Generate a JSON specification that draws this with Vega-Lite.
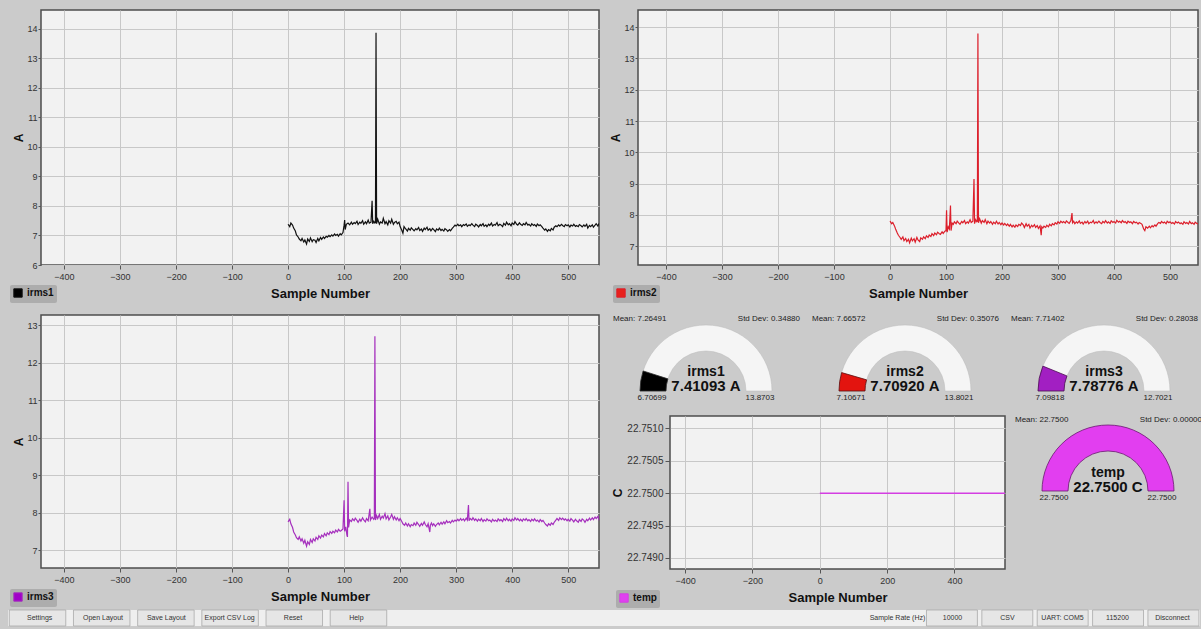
{
  "$schema": "https://vega.github.io/schema/vega-lite/v6.json",
  "background": "#cbcbcb",
  "padding": {"left": 8, "top": 9, "right": 1, "bottom": 2},
  "datasets": {
    "irms1": [
      {"n":0,"v":7.38},{"n":3,"v":7.30},{"n":5,"v":7.42},{"n":8,"v":7.35},{"n":10,"v":7.25},{"n":13,"v":7.15},{"n":15,"v":7.02},{"n":18,"v":6.95},{"n":20,"v":6.88},{"n":23,"v":6.82},{"n":25,"v":6.90},{"n":28,"v":6.78},{"n":30,"v":6.85},{"n":33,"v":6.71},{"n":35,"v":6.88},{"n":38,"v":6.80},{"n":40,"v":6.92},{"n":43,"v":6.79},{"n":45,"v":6.86},{"n":48,"v":6.84},{"n":50,"v":6.76},{"n":53,"v":6.90},{"n":55,"v":6.82},{"n":58,"v":6.93},{"n":60,"v":6.87},{"n":63,"v":6.95},{"n":65,"v":6.90},{"n":68,"v":6.97},{"n":70,"v":6.94},{"n":73,"v":7.00},{"n":75,"v":6.96},{"n":78,"v":7.02},{"n":80,"v":6.98},{"n":83,"v":7.05},{"n":85,"v":7.00},{"n":88,"v":7.04},{"n":90,"v":6.98},{"n":93,"v":7.06},{"n":95,"v":7.02},{"n":98,"v":7.10},{"n":100,"v":7.35},{"n":101,"v":7.52},{"n":102,"v":7.20},{"n":104,"v":7.38},{"n":107,"v":7.42},{"n":110,"v":7.36},{"n":113,"v":7.45},{"n":115,"v":7.38},{"n":118,"v":7.44},{"n":120,"v":7.40},{"n":123,"v":7.48},{"n":125,"v":7.37},{"n":128,"v":7.45},{"n":130,"v":7.41},{"n":133,"v":7.50},{"n":135,"v":7.38},{"n":138,"v":7.46},{"n":140,"v":7.40},{"n":143,"v":7.52},{"n":145,"v":7.42},{"n":148,"v":7.45},{"n":150,"v":8.18},{"n":151,"v":7.40},{"n":153,"v":7.48},{"n":155,"v":7.42},{"n":156,"v":7.44},{"n":157,"v":13.87},{"n":158,"v":7.40},{"n":160,"v":7.55},{"n":163,"v":7.38},{"n":165,"v":7.46},{"n":168,"v":7.42},{"n":170,"v":7.58},{"n":173,"v":7.40},{"n":175,"v":7.47},{"n":178,"v":7.36},{"n":180,"v":7.50},{"n":183,"v":7.42},{"n":185,"v":7.55},{"n":188,"v":7.38},{"n":190,"v":7.44},{"n":193,"v":7.48},{"n":195,"v":7.40},{"n":198,"v":7.45},{"n":200,"v":7.30},{"n":203,"v":7.18},{"n":205,"v":7.08},{"n":207,"v":7.30},{"n":210,"v":7.22},{"n":213,"v":7.15},{"n":215,"v":7.24},{"n":218,"v":7.18},{"n":220,"v":7.26},{"n":223,"v":7.20},{"n":225,"v":7.16},{"n":228,"v":7.23},{"n":230,"v":7.19},{"n":233,"v":7.27},{"n":235,"v":7.17},{"n":238,"v":7.22},{"n":240,"v":7.14},{"n":243,"v":7.25},{"n":245,"v":7.20},{"n":248,"v":7.28},{"n":250,"v":7.18},{"n":253,"v":7.23},{"n":255,"v":7.16},{"n":258,"v":7.24},{"n":260,"v":7.20},{"n":263,"v":7.13},{"n":265,"v":7.22},{"n":268,"v":7.18},{"n":270,"v":7.25},{"n":273,"v":7.17},{"n":275,"v":7.21},{"n":278,"v":7.15},{"n":280,"v":7.23},{"n":283,"v":7.19},{"n":285,"v":7.14},{"n":288,"v":7.20},{"n":290,"v":7.16},{"n":293,"v":7.24},{"n":295,"v":7.28},{"n":298,"v":7.35},{"n":300,"v":7.32},{"n":303,"v":7.38},{"n":305,"v":7.33},{"n":308,"v":7.36},{"n":310,"v":7.30},{"n":313,"v":7.37},{"n":315,"v":7.34},{"n":318,"v":7.39},{"n":320,"v":7.31},{"n":323,"v":7.36},{"n":325,"v":7.33},{"n":328,"v":7.40},{"n":330,"v":7.35},{"n":333,"v":7.30},{"n":335,"v":7.38},{"n":338,"v":7.34},{"n":340,"v":7.29},{"n":343,"v":7.37},{"n":345,"v":7.33},{"n":348,"v":7.40},{"n":350,"v":7.31},{"n":353,"v":7.36},{"n":355,"v":7.30},{"n":358,"v":7.38},{"n":360,"v":7.34},{"n":363,"v":7.42},{"n":365,"v":7.32},{"n":368,"v":7.37},{"n":370,"v":7.35},{"n":373,"v":7.44},{"n":375,"v":7.33},{"n":378,"v":7.38},{"n":380,"v":7.36},{"n":383,"v":7.30},{"n":385,"v":7.41},{"n":388,"v":7.35},{"n":390,"v":7.45},{"n":393,"v":7.36},{"n":395,"v":7.40},{"n":398,"v":7.33},{"n":400,"v":7.42},{"n":403,"v":7.37},{"n":405,"v":7.47},{"n":408,"v":7.38},{"n":410,"v":7.35},{"n":413,"v":7.43},{"n":415,"v":7.38},{"n":418,"v":7.34},{"n":420,"v":7.40},{"n":423,"v":7.36},{"n":425,"v":7.44},{"n":428,"v":7.35},{"n":430,"v":7.38},{"n":433,"v":7.32},{"n":435,"v":7.40},{"n":438,"v":7.34},{"n":440,"v":7.37},{"n":443,"v":7.31},{"n":445,"v":7.39},{"n":448,"v":7.33},{"n":450,"v":7.36},{"n":453,"v":7.30},{"n":455,"v":7.25},{"n":458,"v":7.18},{"n":460,"v":7.22},{"n":463,"v":7.14},{"n":465,"v":7.20},{"n":468,"v":7.16},{"n":470,"v":7.24},{"n":473,"v":7.19},{"n":475,"v":7.28},{"n":478,"v":7.33},{"n":480,"v":7.30},{"n":483,"v":7.36},{"n":485,"v":7.32},{"n":488,"v":7.38},{"n":490,"v":7.34},{"n":493,"v":7.30},{"n":495,"v":7.37},{"n":498,"v":7.33},{"n":500,"v":7.36},{"n":503,"v":7.29},{"n":505,"v":7.35},{"n":508,"v":7.32},{"n":510,"v":7.38},{"n":513,"v":7.31},{"n":515,"v":7.34},{"n":518,"v":7.30},{"n":520,"v":7.37},{"n":523,"v":7.33},{"n":525,"v":7.29},{"n":528,"v":7.36},{"n":530,"v":7.31},{"n":533,"v":7.38},{"n":535,"v":7.25},{"n":538,"v":7.34},{"n":540,"v":7.30},{"n":543,"v":7.36},{"n":545,"v":7.28},{"n":548,"v":7.35},{"n":550,"v":7.40},{"n":553,"v":7.32},{"n":555,"v":7.41}
    ],
    "irms2": [
      {"n":0,"v":7.80},{"n":3,"v":7.72},{"n":5,"v":7.76},{"n":8,"v":7.65},{"n":10,"v":7.55},{"n":13,"v":7.42},{"n":15,"v":7.35},{"n":18,"v":7.28},{"n":20,"v":7.22},{"n":23,"v":7.30},{"n":25,"v":7.18},{"n":28,"v":7.25},{"n":30,"v":7.15},{"n":33,"v":7.22},{"n":35,"v":7.11},{"n":38,"v":7.26},{"n":40,"v":7.17},{"n":43,"v":7.24},{"n":45,"v":7.13},{"n":48,"v":7.28},{"n":50,"v":7.20},{"n":53,"v":7.15},{"n":55,"v":7.27},{"n":58,"v":7.22},{"n":60,"v":7.30},{"n":63,"v":7.24},{"n":65,"v":7.33},{"n":68,"v":7.28},{"n":70,"v":7.36},{"n":73,"v":7.31},{"n":75,"v":7.40},{"n":78,"v":7.34},{"n":80,"v":7.42},{"n":83,"v":7.37},{"n":85,"v":7.45},{"n":88,"v":7.40},{"n":90,"v":7.38},{"n":93,"v":7.46},{"n":95,"v":7.41},{"n":98,"v":7.48},{"n":100,"v":7.50},{"n":101,"v":8.15},{"n":102,"v":7.45},{"n":104,"v":7.62},{"n":106,"v":7.55},{"n":108,"v":8.30},{"n":109,"v":7.50},{"n":111,"v":7.74},{"n":113,"v":7.70},{"n":115,"v":7.78},{"n":118,"v":7.72},{"n":120,"v":7.80},{"n":123,"v":7.74},{"n":125,"v":7.70},{"n":128,"v":7.79},{"n":130,"v":7.75},{"n":133,"v":7.82},{"n":135,"v":7.72},{"n":138,"v":7.78},{"n":140,"v":7.74},{"n":143,"v":7.85},{"n":145,"v":7.76},{"n":148,"v":7.80},{"n":150,"v":9.15},{"n":151,"v":7.72},{"n":153,"v":7.85},{"n":155,"v":7.78},{"n":156,"v":7.80},{"n":157,"v":13.80},{"n":158,"v":7.75},{"n":160,"v":7.88},{"n":163,"v":7.74},{"n":165,"v":7.82},{"n":168,"v":7.76},{"n":170,"v":7.85},{"n":173,"v":7.72},{"n":175,"v":7.80},{"n":178,"v":7.74},{"n":180,"v":7.79},{"n":183,"v":7.70},{"n":185,"v":7.77},{"n":188,"v":7.72},{"n":190,"v":7.80},{"n":193,"v":7.71},{"n":195,"v":7.76},{"n":198,"v":7.69},{"n":200,"v":7.74},{"n":203,"v":7.68},{"n":205,"v":7.73},{"n":208,"v":7.66},{"n":210,"v":7.71},{"n":213,"v":7.64},{"n":215,"v":7.70},{"n":218,"v":7.62},{"n":220,"v":7.67},{"n":223,"v":7.61},{"n":225,"v":7.68},{"n":228,"v":7.63},{"n":230,"v":7.70},{"n":233,"v":7.66},{"n":235,"v":7.74},{"n":238,"v":7.68},{"n":240,"v":7.60},{"n":243,"v":7.72},{"n":245,"v":7.64},{"n":248,"v":7.70},{"n":250,"v":7.58},{"n":253,"v":7.67},{"n":255,"v":7.62},{"n":258,"v":7.69},{"n":260,"v":7.60},{"n":263,"v":7.66},{"n":265,"v":7.57},{"n":268,"v":7.65},{"n":270,"v":7.35},{"n":271,"v":7.62},{"n":273,"v":7.58},{"n":275,"v":7.64},{"n":278,"v":7.60},{"n":280,"v":7.67},{"n":283,"v":7.62},{"n":285,"v":7.70},{"n":288,"v":7.65},{"n":290,"v":7.72},{"n":293,"v":7.68},{"n":295,"v":7.75},{"n":298,"v":7.71},{"n":300,"v":7.78},{"n":303,"v":7.73},{"n":305,"v":7.80},{"n":308,"v":7.75},{"n":310,"v":7.79},{"n":313,"v":7.74},{"n":315,"v":7.81},{"n":318,"v":7.76},{"n":320,"v":7.73},{"n":323,"v":7.82},{"n":325,"v":8.06},{"n":326,"v":7.75},{"n":328,"v":7.80},{"n":330,"v":7.72},{"n":333,"v":7.78},{"n":335,"v":7.74},{"n":338,"v":7.81},{"n":340,"v":7.73},{"n":343,"v":7.77},{"n":345,"v":7.71},{"n":348,"v":7.79},{"n":350,"v":7.74},{"n":353,"v":7.80},{"n":355,"v":7.72},{"n":358,"v":7.77},{"n":360,"v":7.75},{"n":363,"v":7.82},{"n":365,"v":7.73},{"n":368,"v":7.78},{"n":370,"v":7.74},{"n":373,"v":7.80},{"n":375,"v":7.76},{"n":378,"v":7.72},{"n":380,"v":7.79},{"n":383,"v":7.75},{"n":385,"v":7.82},{"n":388,"v":7.74},{"n":390,"v":7.78},{"n":393,"v":7.73},{"n":395,"v":7.81},{"n":398,"v":7.76},{"n":400,"v":7.79},{"n":403,"v":7.74},{"n":405,"v":7.83},{"n":408,"v":7.77},{"n":410,"v":7.80},{"n":413,"v":7.75},{"n":415,"v":7.82},{"n":418,"v":7.76},{"n":420,"v":7.79},{"n":423,"v":7.73},{"n":425,"v":7.80},{"n":428,"v":7.76},{"n":430,"v":7.78},{"n":433,"v":7.72},{"n":435,"v":7.79},{"n":438,"v":7.75},{"n":440,"v":7.77},{"n":443,"v":7.71},{"n":445,"v":7.76},{"n":448,"v":7.73},{"n":450,"v":7.70},{"n":453,"v":7.55},{"n":455,"v":7.50},{"n":457,"v":7.62},{"n":460,"v":7.58},{"n":463,"v":7.64},{"n":465,"v":7.59},{"n":468,"v":7.66},{"n":470,"v":7.62},{"n":473,"v":7.68},{"n":475,"v":7.64},{"n":478,"v":7.72},{"n":480,"v":7.76},{"n":483,"v":7.73},{"n":485,"v":7.79},{"n":488,"v":7.74},{"n":490,"v":7.77},{"n":493,"v":7.72},{"n":495,"v":7.80},{"n":498,"v":7.75},{"n":500,"v":7.78},{"n":503,"v":7.73},{"n":505,"v":7.76},{"n":508,"v":7.71},{"n":510,"v":7.79},{"n":513,"v":7.74},{"n":515,"v":7.77},{"n":518,"v":7.72},{"n":520,"v":7.75},{"n":523,"v":7.70},{"n":525,"v":7.78},{"n":528,"v":7.73},{"n":530,"v":7.76},{"n":533,"v":7.71},{"n":535,"v":7.79},{"n":538,"v":7.72},{"n":540,"v":7.75},{"n":543,"v":7.70},{"n":545,"v":7.77},{"n":548,"v":7.73},{"n":550,"v":7.71}
    ],
    "irms3": [
      {"n":0,"v":7.75},{"n":3,"v":7.82},{"n":5,"v":7.70},{"n":8,"v":7.60},{"n":10,"v":7.48},{"n":13,"v":7.40},{"n":15,"v":7.33},{"n":18,"v":7.28},{"n":20,"v":7.35},{"n":23,"v":7.24},{"n":25,"v":7.30},{"n":28,"v":7.18},{"n":30,"v":7.26},{"n":33,"v":7.10},{"n":35,"v":7.22},{"n":38,"v":7.15},{"n":40,"v":7.28},{"n":43,"v":7.20},{"n":45,"v":7.30},{"n":48,"v":7.24},{"n":50,"v":7.34},{"n":53,"v":7.28},{"n":55,"v":7.38},{"n":58,"v":7.32},{"n":60,"v":7.40},{"n":63,"v":7.35},{"n":65,"v":7.44},{"n":68,"v":7.38},{"n":70,"v":7.46},{"n":73,"v":7.41},{"n":75,"v":7.49},{"n":78,"v":7.44},{"n":80,"v":7.50},{"n":83,"v":7.46},{"n":85,"v":7.53},{"n":88,"v":7.48},{"n":90,"v":7.55},{"n":93,"v":7.50},{"n":95,"v":7.52},{"n":98,"v":7.56},{"n":100,"v":8.33},{"n":101,"v":7.50},{"n":103,"v":7.62},{"n":105,"v":7.40},{"n":106,"v":7.35},{"n":107,"v":8.82},{"n":108,"v":7.60},{"n":110,"v":7.80},{"n":113,"v":7.76},{"n":115,"v":7.83},{"n":118,"v":7.78},{"n":120,"v":7.85},{"n":123,"v":7.79},{"n":125,"v":7.74},{"n":128,"v":7.82},{"n":130,"v":7.77},{"n":133,"v":7.86},{"n":135,"v":7.80},{"n":138,"v":7.75},{"n":140,"v":7.84},{"n":143,"v":7.78},{"n":146,"v":8.10},{"n":147,"v":7.80},{"n":150,"v":7.88},{"n":153,"v":7.82},{"n":154,"v":7.85},{"n":155,"v":12.70},{"n":156,"v":7.80},{"n":158,"v":7.92},{"n":160,"v":7.84},{"n":163,"v":7.95},{"n":165,"v":7.82},{"n":168,"v":7.90},{"n":170,"v":7.85},{"n":173,"v":7.97},{"n":175,"v":7.83},{"n":178,"v":7.91},{"n":180,"v":7.80},{"n":183,"v":7.88},{"n":185,"v":7.95},{"n":188,"v":7.82},{"n":190,"v":7.89},{"n":193,"v":7.80},{"n":195,"v":7.86},{"n":198,"v":7.78},{"n":200,"v":7.84},{"n":203,"v":7.76},{"n":205,"v":7.70},{"n":208,"v":7.66},{"n":210,"v":7.72},{"n":213,"v":7.64},{"n":215,"v":7.70},{"n":218,"v":7.62},{"n":220,"v":7.68},{"n":223,"v":7.65},{"n":225,"v":7.72},{"n":228,"v":7.66},{"n":230,"v":7.74},{"n":233,"v":7.68},{"n":235,"v":7.63},{"n":238,"v":7.71},{"n":240,"v":7.66},{"n":243,"v":7.75},{"n":245,"v":7.68},{"n":248,"v":7.62},{"n":250,"v":7.70},{"n":253,"v":7.48},{"n":254,"v":7.66},{"n":256,"v":7.72},{"n":258,"v":7.65},{"n":260,"v":7.70},{"n":263,"v":7.63},{"n":265,"v":7.68},{"n":268,"v":7.72},{"n":270,"v":7.67},{"n":273,"v":7.74},{"n":275,"v":7.69},{"n":278,"v":7.75},{"n":280,"v":7.70},{"n":283,"v":7.78},{"n":285,"v":7.73},{"n":288,"v":7.76},{"n":290,"v":7.72},{"n":293,"v":7.79},{"n":295,"v":7.75},{"n":298,"v":7.80},{"n":300,"v":7.77},{"n":303,"v":7.82},{"n":305,"v":7.78},{"n":308,"v":7.84},{"n":310,"v":7.79},{"n":313,"v":7.83},{"n":315,"v":7.78},{"n":318,"v":7.85},{"n":320,"v":7.80},{"n":322,"v":8.20},{"n":323,"v":7.78},{"n":325,"v":7.84},{"n":328,"v":7.80},{"n":330,"v":7.86},{"n":333,"v":7.79},{"n":335,"v":7.83},{"n":338,"v":7.77},{"n":340,"v":7.82},{"n":343,"v":7.78},{"n":345,"v":7.84},{"n":348,"v":7.76},{"n":350,"v":7.81},{"n":353,"v":7.77},{"n":355,"v":7.83},{"n":358,"v":7.78},{"n":360,"v":7.80},{"n":363,"v":7.75},{"n":365,"v":7.82},{"n":368,"v":7.77},{"n":370,"v":7.80},{"n":373,"v":7.76},{"n":375,"v":7.83},{"n":378,"v":7.78},{"n":380,"v":7.81},{"n":383,"v":7.76},{"n":385,"v":7.84},{"n":388,"v":7.79},{"n":390,"v":7.85},{"n":393,"v":7.78},{"n":395,"v":7.82},{"n":398,"v":7.77},{"n":400,"v":7.83},{"n":403,"v":7.79},{"n":405,"v":7.86},{"n":408,"v":7.80},{"n":410,"v":7.84},{"n":413,"v":7.78},{"n":415,"v":7.82},{"n":418,"v":7.77},{"n":420,"v":7.83},{"n":423,"v":7.79},{"n":425,"v":7.84},{"n":428,"v":7.78},{"n":430,"v":7.81},{"n":433,"v":7.76},{"n":435,"v":7.82},{"n":438,"v":7.78},{"n":440,"v":7.83},{"n":443,"v":7.77},{"n":445,"v":7.80},{"n":448,"v":7.75},{"n":450,"v":7.81},{"n":453,"v":7.76},{"n":455,"v":7.79},{"n":458,"v":7.72},{"n":460,"v":7.68},{"n":463,"v":7.64},{"n":465,"v":7.70},{"n":468,"v":7.66},{"n":470,"v":7.72},{"n":473,"v":7.68},{"n":475,"v":7.74},{"n":478,"v":7.80},{"n":480,"v":7.84},{"n":483,"v":7.79},{"n":485,"v":7.86},{"n":488,"v":7.81},{"n":490,"v":7.85},{"n":493,"v":7.80},{"n":495,"v":7.83},{"n":498,"v":7.78},{"n":500,"v":7.82},{"n":503,"v":7.77},{"n":505,"v":7.84},{"n":508,"v":7.79},{"n":510,"v":7.75},{"n":513,"v":7.82},{"n":515,"v":7.78},{"n":518,"v":7.74},{"n":520,"v":7.81},{"n":523,"v":7.76},{"n":525,"v":7.83},{"n":528,"v":7.79},{"n":530,"v":7.74},{"n":533,"v":7.82},{"n":535,"v":7.78},{"n":538,"v":7.85},{"n":540,"v":7.80},{"n":543,"v":7.86},{"n":545,"v":7.81},{"n":548,"v":7.88},{"n":550,"v":7.84},{"n":553,"v":7.90},{"n":555,"v":7.79}
    ],
    "temp": [{"n":0,"v":22.75},{"n":555,"v":22.75}],
    "buttons": [
      {"label":"Settings","side":"L"},{"label":"Open Layout","side":"L"},{"label":"Save Layout","side":"L"},{"label":"Export CSV Log","side":"L"},{"label":"Reset","side":"L"},{"label":"Help","side":"L"},
      {"label":"Sample Rate (Hz)","side":"R"},{"label":"10000","side":"R"},{"label":"CSV","side":"R"},{"label":"UART: COM5","side":"R"},{"label":"115200","side":"R"},{"label":"Disconnect","side":"R"}
    ],
    "blank": []
  },
  "resolve": {"scale": {"color": "independent"}, "legend": {"color": "independent"}},
  "spacing": 0,
  "vconcat": [
    {
      "spacing": 10,
      "resolve": {"scale": {"color": "independent"}, "legend": {"color": "independent"}},
      "vconcat": [
        {
          "spacing": 0,
          "resolve": {"scale": {"color": "independent"}, "legend": {"color": "independent"}},
          "hconcat": [
            {"width": 1, "height": 1, "view": {"fill": null, "stroke": null}, "data": {"name": "blank"}, "mark": {"type": "point"}, "encoding": {}},
            {
              "spacing": 8,
              "resolve": {"scale": {"color": "independent"}, "legend": {"color": "independent"}},
              "hconcat": [
                {
                  "width": 558, "height": 255,
                  "data": {"name": "irms1"},
                  "mark": {"type": "line", "strokeWidth": 1.2, "clip": true},
                  "encoding": {
                    "x": {"field": "n", "type": "quantitative", "scale": {"domain": [-441, 555], "nice": false, "zero": false}, "axis": {"title": "Sample Number", "values": [-400,-300,-200,-100,0,100,200,300,400,500]}},
                    "y": {"field": "v", "type": "quantitative", "scale": {"domain": [6, 14.64], "nice": false, "zero": false}, "axis": {"title": "A", "values": [6,7,8,9,10,11,12,13,14]}},
                    "color": {"datum": "irms1", "type": "nominal", "scale": {"domain": ["irms1"], "range": ["#111111"]}, "legend": {"title": null, "orient": "none", "legendX": -31, "legendY": 275, "encode": {"symbols": {"update": {"fill": {"value": "#000000"}, "stroke": {"value": "#000000"}, "shape": {"value": "square"}}}}}}
                  }
                },
                {
                  "width": 560, "height": 255,
                  "data": {"name": "irms2"},
                  "mark": {"type": "line", "strokeWidth": 1.2, "clip": true},
                  "encoding": {
                    "x": {"field": "n", "type": "quantitative", "scale": {"domain": [-450, 550], "nice": false, "zero": false}, "axis": {"title": "Sample Number", "values": [-400,-300,-200,-100,0,100,200,300,400,500]}},
                    "y": {"field": "v", "type": "quantitative", "scale": {"domain": [6.4, 14.55], "nice": false, "zero": false}, "axis": {"title": "A", "values": [7,8,9,10,11,12,13,14]}},
                    "color": {"datum": "irms2", "type": "nominal", "scale": {"domain": ["irms2"], "range": ["#dc1f2b"]}, "legend": {"title": null, "orient": "none", "legendX": -25, "legendY": 275, "encode": {"symbols": {"update": {"fill": {"value": "#e8211c"}, "stroke": {"value": "#e8211c"}, "shape": {"value": "square"}}}}}}
                  }
                }
              ]
            }
          ]
        },
        {
          "spacing": 0,
          "resolve": {"scale": {"color": "independent"}, "legend": {"color": "independent"}},
          "hconcat": [
            {"width": 1, "height": 1, "view": {"fill": null, "stroke": null}, "data": {"name": "blank"}, "mark": {"type": "point"}, "encoding": {}},
            {
              "spacing": 9,
              "resolve": {"scale": {"color": "independent"}, "legend": {"color": "independent"}},
              "hconcat": [
                {
                  "width": 558, "height": 253,
                  "data": {"name": "irms3"},
                  "mark": {"type": "line", "strokeWidth": 1.2, "clip": true},
                  "encoding": {
                    "x": {"field": "n", "type": "quantitative", "scale": {"domain": [-441, 555], "nice": false, "zero": false}, "axis": {"title": "Sample Number", "values": [-400,-300,-200,-100,0,100,200,300,400,500]}},
                    "y": {"field": "v", "type": "quantitative", "scale": {"domain": [6.52, 13.27], "nice": false, "zero": false}, "axis": {"title": "A", "values": [7,8,9,10,11,12,13]}},
                    "color": {"datum": "irms3", "type": "nominal", "scale": {"domain": ["irms3"], "range": ["#a52fbd"]}, "legend": {"title": null, "orient": "none", "legendX": -31, "legendY": 274, "encode": {"symbols": {"update": {"fill": {"value": "#a000c8"}, "stroke": {"value": "#a000c8"}, "shape": {"value": "square"}}}}}}
                  }
                },
                {
                  "spacing": 7,
                  "resolve": {"scale": {"color": "independent"}, "legend": {"color": "independent"}},
                  "vconcat": [
                    {
                      "spacing": 5,
                      "resolve": {"scale": {"theta": "independent"}},
                      "hconcat": [
                        {
                          "width": 194, "height": 93,
                          "view": {"fill": null, "stroke": null},
                          "data": {"values": [{"name": "irms1", "value": 7.41093, "min": 6.70699, "max": 13.8703, "mean": 7.26491, "std": 0.3488, "unit": "A"}]},
                          "layer": [
                            {"mark": {"type": "arc", "theta": -1.5708, "theta2": 1.5708, "radius": 66, "radius2": 40, "fill": "#f5f5f5", "stroke": "#b8b8b8", "strokeWidth": 0.5, "y": 76}, "encoding": {}},
                            {"mark": {"type": "arc", "radius": 66, "radius2": 40, "fill": "#000000", "stroke": "#2a2a2a", "strokeWidth": 0.8, "y": 76}, "encoding": {"theta": {"field": "min", "type": "quantitative", "stack": null, "scale": {"domain": [6.70699, 13.8703], "range": [-1.5708, 1.5708], "nice": false, "zero": false}}, "theta2": {"field": "value"}}},
                            {"mark": {"type": "text", "text": "Mean:", "align": "left", "baseline": "middle", "x": 4, "y": 4, "fontSize": 8, "color": "#222222"}, "encoding": {}},
                            {"mark": {"type": "text", "align": "left", "baseline": "middle", "x": 28.5, "y": 4, "fontSize": 8, "color": "#222222"}, "encoding": {"text": {"field": "mean", "type": "quantitative", "format": ".6r"}}},
                            {"mark": {"type": "text", "text": "Std Dev:", "align": "right", "baseline": "middle", "x": 159.5, "y": 4, "fontSize": 8, "color": "#222222"}, "encoding": {}},
                            {"mark": {"type": "text", "align": "right", "baseline": "middle", "x": 191, "y": 4, "fontSize": 8, "color": "#222222"}, "encoding": {"text": {"field": "std", "type": "quantitative", "format": ".5f"}}},
                            {"mark": {"type": "text", "align": "center", "baseline": "middle", "x": 97, "y": 57, "fontSize": 14, "fontWeight": "bold", "color": "#111111"}, "encoding": {"text": {"field": "name"}}},
                            {"mark": {"type": "text", "align": "right", "baseline": "middle", "x": 116.6, "y": 71, "fontSize": 15, "fontWeight": "bold", "color": "#111111"}, "encoding": {"text": {"field": "value", "type": "quantitative", "format": ".6r"}}},
                            {"mark": {"type": "text", "align": "left", "baseline": "middle", "x": 120.8, "y": 71, "fontSize": 15, "fontWeight": "bold", "color": "#111111"}, "encoding": {"text": {"field": "unit"}}},
                            {"mark": {"type": "text", "align": "center", "baseline": "middle", "x": 43, "y": 83, "fontSize": 8, "color": "#222222"}, "encoding": {"text": {"field": "min", "type": "quantitative", "format": ".6r"}}},
                            {"mark": {"type": "text", "align": "center", "baseline": "middle", "x": 151, "y": 83, "fontSize": 8, "color": "#222222"}, "encoding": {"text": {"field": "max", "type": "quantitative", "format": ".6r"}}}
                          ]
                        },
                        {
                          "width": 194, "height": 93,
                          "view": {"fill": null, "stroke": null},
                          "data": {"values": [{"name": "irms2", "value": 7.7092, "min": 7.10671, "max": 13.8021, "mean": 7.66572, "std": 0.35076, "unit": "A"}]},
                          "layer": [
                            {"mark": {"type": "arc", "theta": -1.5708, "theta2": 1.5708, "radius": 66, "radius2": 40, "fill": "#f5f5f5", "stroke": "#b8b8b8", "strokeWidth": 0.5, "y": 76}, "encoding": {}},
                            {"mark": {"type": "arc", "radius": 66, "radius2": 40, "fill": "#e3140f", "stroke": "#5a1010", "strokeWidth": 0.8, "y": 76}, "encoding": {"theta": {"field": "min", "type": "quantitative", "stack": null, "scale": {"domain": [7.10671, 13.8021], "range": [-1.5708, 1.5708], "nice": false, "zero": false}}, "theta2": {"field": "value"}}},
                            {"mark": {"type": "text", "text": "Mean:", "align": "left", "baseline": "middle", "x": 4, "y": 4, "fontSize": 8, "color": "#222222"}, "encoding": {}},
                            {"mark": {"type": "text", "align": "left", "baseline": "middle", "x": 28.5, "y": 4, "fontSize": 8, "color": "#222222"}, "encoding": {"text": {"field": "mean", "type": "quantitative", "format": ".6r"}}},
                            {"mark": {"type": "text", "text": "Std Dev:", "align": "right", "baseline": "middle", "x": 159.5, "y": 4, "fontSize": 8, "color": "#222222"}, "encoding": {}},
                            {"mark": {"type": "text", "align": "right", "baseline": "middle", "x": 191, "y": 4, "fontSize": 8, "color": "#222222"}, "encoding": {"text": {"field": "std", "type": "quantitative", "format": ".5f"}}},
                            {"mark": {"type": "text", "align": "center", "baseline": "middle", "x": 97, "y": 57, "fontSize": 14, "fontWeight": "bold", "color": "#111111"}, "encoding": {"text": {"field": "name"}}},
                            {"mark": {"type": "text", "align": "right", "baseline": "middle", "x": 116.6, "y": 71, "fontSize": 15, "fontWeight": "bold", "color": "#111111"}, "encoding": {"text": {"field": "value", "type": "quantitative", "format": ".6r"}}},
                            {"mark": {"type": "text", "align": "left", "baseline": "middle", "x": 120.8, "y": 71, "fontSize": 15, "fontWeight": "bold", "color": "#111111"}, "encoding": {"text": {"field": "unit"}}},
                            {"mark": {"type": "text", "align": "center", "baseline": "middle", "x": 43, "y": 83, "fontSize": 8, "color": "#222222"}, "encoding": {"text": {"field": "min", "type": "quantitative", "format": ".6r"}}},
                            {"mark": {"type": "text", "align": "center", "baseline": "middle", "x": 151, "y": 83, "fontSize": 8, "color": "#222222"}, "encoding": {"text": {"field": "max", "type": "quantitative", "format": ".6r"}}}
                          ]
                        },
                        {
                          "width": 194, "height": 93,
                          "view": {"fill": null, "stroke": null},
                          "data": {"values": [{"name": "irms3", "value": 7.78776, "min": 7.09818, "max": 12.7021, "mean": 7.71402, "std": 0.28038, "unit": "A"}]},
                          "layer": [
                            {"mark": {"type": "arc", "theta": -1.5708, "theta2": 1.5708, "radius": 66, "radius2": 40, "fill": "#f5f5f5", "stroke": "#b8b8b8", "strokeWidth": 0.5, "y": 76}, "encoding": {}},
                            {"mark": {"type": "arc", "radius": 66, "radius2": 40, "fill": "#a21fc2", "stroke": "#4a1050", "strokeWidth": 0.8, "y": 76}, "encoding": {"theta": {"field": "min", "type": "quantitative", "stack": null, "scale": {"domain": [7.09818, 12.7021], "range": [-1.5708, 1.5708], "nice": false, "zero": false}}, "theta2": {"field": "value"}}},
                            {"mark": {"type": "text", "text": "Mean:", "align": "left", "baseline": "middle", "x": 4, "y": 4, "fontSize": 8, "color": "#222222"}, "encoding": {}},
                            {"mark": {"type": "text", "align": "left", "baseline": "middle", "x": 28.5, "y": 4, "fontSize": 8, "color": "#222222"}, "encoding": {"text": {"field": "mean", "type": "quantitative", "format": ".6r"}}},
                            {"mark": {"type": "text", "text": "Std Dev:", "align": "right", "baseline": "middle", "x": 159.5, "y": 4, "fontSize": 8, "color": "#222222"}, "encoding": {}},
                            {"mark": {"type": "text", "align": "right", "baseline": "middle", "x": 191, "y": 4, "fontSize": 8, "color": "#222222"}, "encoding": {"text": {"field": "std", "type": "quantitative", "format": ".5f"}}},
                            {"mark": {"type": "text", "align": "center", "baseline": "middle", "x": 97, "y": 57, "fontSize": 14, "fontWeight": "bold", "color": "#111111"}, "encoding": {"text": {"field": "name"}}},
                            {"mark": {"type": "text", "align": "right", "baseline": "middle", "x": 116.6, "y": 71, "fontSize": 15, "fontWeight": "bold", "color": "#111111"}, "encoding": {"text": {"field": "value", "type": "quantitative", "format": ".6r"}}},
                            {"mark": {"type": "text", "align": "left", "baseline": "middle", "x": 120.8, "y": 71, "fontSize": 15, "fontWeight": "bold", "color": "#111111"}, "encoding": {"text": {"field": "unit"}}},
                            {"mark": {"type": "text", "align": "center", "baseline": "middle", "x": 43, "y": 83, "fontSize": 8, "color": "#222222"}, "encoding": {"text": {"field": "min", "type": "quantitative", "format": ".6r"}}},
                            {"mark": {"type": "text", "align": "center", "baseline": "middle", "x": 151, "y": 83, "fontSize": 8, "color": "#222222"}, "encoding": {"text": {"field": "max", "type": "quantitative", "format": ".6r"}}}
                          ]
                        }
                      ]
                    },
                    {
                      "spacing": 0,
                      "resolve": {"scale": {"color": "independent"}, "legend": {"color": "independent"}},
                      "hconcat": [
                        {"width": 1, "height": 1, "view": {"fill": null, "stroke": null}, "data": {"name": "blank"}, "mark": {"type": "point"}, "encoding": {}},
                        {
                          "spacing": 5,
                          "resolve": {"scale": {"color": "independent"}, "legend": {"color": "independent"}},
                          "hconcat": [
                            {
                              "width": 335, "height": 153,
                              "data": {"name": "temp"},
                              "mark": {"type": "line", "strokeWidth": 1.5, "clip": true},
                              "encoding": {
                                "x": {"field": "n", "type": "quantitative", "scale": {"domain": [-445, 550], "nice": false, "zero": false}, "axis": {"title": "Sample Number", "values": [-400,-200,0,200,400]}},
                                "y": {"field": "v", "type": "quantitative", "scale": {"domain": [22.74883, 22.75119], "nice": false, "zero": false}, "axis": {"title": "C", "values": [22.749,22.7495,22.75,22.7505,22.751], "format": ".4f", "labelFontSize": 10, "tickSize": 5, "labelPadding": 2, "minExtent": 44, "maxExtent": 44, "titlePadding": 2}},
                                "color": {"datum": "temp", "type": "nominal", "scale": {"domain": ["temp"], "range": ["#d43ee2"]}, "legend": {"title": null, "orient": "none", "legendX": -54, "legendY": 174, "encode": {"symbols": {"update": {"fill": {"value": "#e040f0"}, "stroke": {"value": "#e040f0"}, "shape": {"value": "square"}}}}}}
                              }
                            },
                            {
                              "width": 194, "height": 93,
                              "view": {"fill": null, "stroke": null},
                              "data": {"values": [{"name": "temp", "value": 22.75, "min": 22.75, "max": 22.75, "mean": 22.75, "std": 0, "unit": "C"}]},
                              "layer": [
                                {"mark": {"type": "arc", "theta": -1.5708, "theta2": 1.5708, "radius": 66, "radius2": 40, "fill": "#e23ef0", "stroke": "#6a1a70", "strokeWidth": 0.8, "y": 75}, "encoding": {}},
                                {"mark": {"type": "text", "text": "Mean:", "align": "left", "baseline": "middle", "x": 4, "y": 4, "fontSize": 8, "color": "#222222"}, "encoding": {}},
                                {"mark": {"type": "text", "align": "left", "baseline": "middle", "x": 28.5, "y": 4, "fontSize": 8, "color": "#222222"}, "encoding": {"text": {"field": "mean", "type": "quantitative", "format": ".6r"}}},
                                {"mark": {"type": "text", "text": "Std Dev:", "align": "right", "baseline": "middle", "x": 159.5, "y": 4, "fontSize": 8, "color": "#222222"}, "encoding": {}},
                                {"mark": {"type": "text", "align": "right", "baseline": "middle", "x": 191, "y": 4, "fontSize": 8, "color": "#222222"}, "encoding": {"text": {"field": "std", "type": "quantitative", "format": ".5f"}}},
                                {"mark": {"type": "text", "align": "center", "baseline": "middle", "x": 97, "y": 57, "fontSize": 14, "fontWeight": "bold", "color": "#111111"}, "encoding": {"text": {"field": "name"}}},
                                {"mark": {"type": "text", "align": "right", "baseline": "middle", "x": 116.6, "y": 71, "fontSize": 15, "fontWeight": "bold", "color": "#111111"}, "encoding": {"text": {"field": "value", "type": "quantitative", "format": ".6r"}}},
                                {"mark": {"type": "text", "align": "left", "baseline": "middle", "x": 120.8, "y": 71, "fontSize": 15, "fontWeight": "bold", "color": "#111111"}, "encoding": {"text": {"field": "unit"}}},
                                {"mark": {"type": "text", "align": "center", "baseline": "middle", "x": 43, "y": 82, "fontSize": 8, "color": "#222222"}, "encoding": {"text": {"field": "min", "type": "quantitative", "format": ".6r"}}},
                                {"mark": {"type": "text", "align": "center", "baseline": "middle", "x": 151, "y": 82, "fontSize": 8, "color": "#222222"}, "encoding": {"text": {"field": "max", "type": "quantitative", "format": ".6r"}}}
                              ]
                            }
                          ]
                        }
                      ]
                    }
                  ]
                }
              ]
            }
          ]
        }
      ]
    },
    {
      "width": 1192, "height": 16,
      "view": {"fill": "#efefef", "stroke": null},
      "data": {"name": "buttons"},
      "layer": [
        {"transform": [{"filter": "datum.side == 'L'"}], "mark": {"type": "bar", "fill": "#e6e6e6", "stroke": "#a9a9a9", "strokeWidth": 0.8}, "encoding": {"x": {"field": "label", "type": "nominal", "sort": null, "axis": null, "scale": {"domain": ["Settings","Open Layout","Save Layout","Export CSV Log","Reset","Help"], "range": [0, 380], "paddingInner": 0.12, "paddingOuter": 0.02}}}},
        {"transform": [{"filter": "datum.side == 'L'"}], "mark": {"type": "text", "fontSize": 7, "color": "#333333"}, "encoding": {"x": {"field": "label", "type": "nominal", "sort": null, "axis": null, "scale": {"domain": ["Settings","Open Layout","Save Layout","Export CSV Log","Reset","Help"], "range": [0, 380], "paddingInner": 0.12, "paddingOuter": 0.02}}, "text": {"field": "label"}}},
        {"transform": [{"filter": "datum.side == 'R' && datum.label != 'Sample Rate (Hz)'"}], "mark": {"type": "bar", "fill": "#e6e6e6", "stroke": "#a9a9a9", "strokeWidth": 0.8}, "encoding": {"x": {"field": "label", "type": "nominal", "sort": null, "axis": null, "scale": {"domain": ["Sample Rate (Hz)","10000","CSV","UART: COM5","115200","Disconnect"], "range": [862, 1192], "paddingInner": 0.08, "paddingOuter": 0.02}}}},
        {"transform": [{"filter": "datum.side == 'R'"}], "mark": {"type": "text", "fontSize": 7, "color": "#333333"}, "encoding": {"x": {"field": "label", "type": "nominal", "sort": null, "axis": null, "scale": {"domain": ["Sample Rate (Hz)","10000","CSV","UART: COM5","115200","Disconnect"], "range": [862, 1192], "paddingInner": 0.08, "paddingOuter": 0.02}}, "text": {"field": "label"}}}
      ],
      "resolve": {"scale": {"x": "independent"}}
    }
  ],
  "config": {
    "font": "Liberation Sans",
    "view": {"fill": "#f2f2f2", "stroke": "#4d4d4d", "strokeWidth": 1.5},
    "axis": {"domain": false, "gridColor": "#c8c8c8", "gridWidth": 1, "tickColor": "#555555", "labelFont": "Liberation Sans", "labelFontSize": 9, "labelColor": "#333333", "titleFont": "Liberation Sans", "titleFontWeight": "bold", "titleColor": "#111111", "labelFlush": false, "labelOverlap": false},
    "axisX": {"tickSize": 4, "labelPadding": 3, "titleFontSize": 13, "titlePadding": 6},
    "axisY": {"tickSize": 3, "labelPadding": 1, "titleFontSize": 12, "titlePadding": 1.5, "minExtent": 14, "maxExtent": 14},
    "legend": {"fillColor": "#adadad", "padding": 3, "cornerRadius": 2, "labelFont": "Liberation Sans", "labelFontSize": 10, "labelFontWeight": "bold", "labelColor": "#111111", "symbolSize": 70, "labelOffset": 4, "symbolStrokeWidth": 1}
  }
}
